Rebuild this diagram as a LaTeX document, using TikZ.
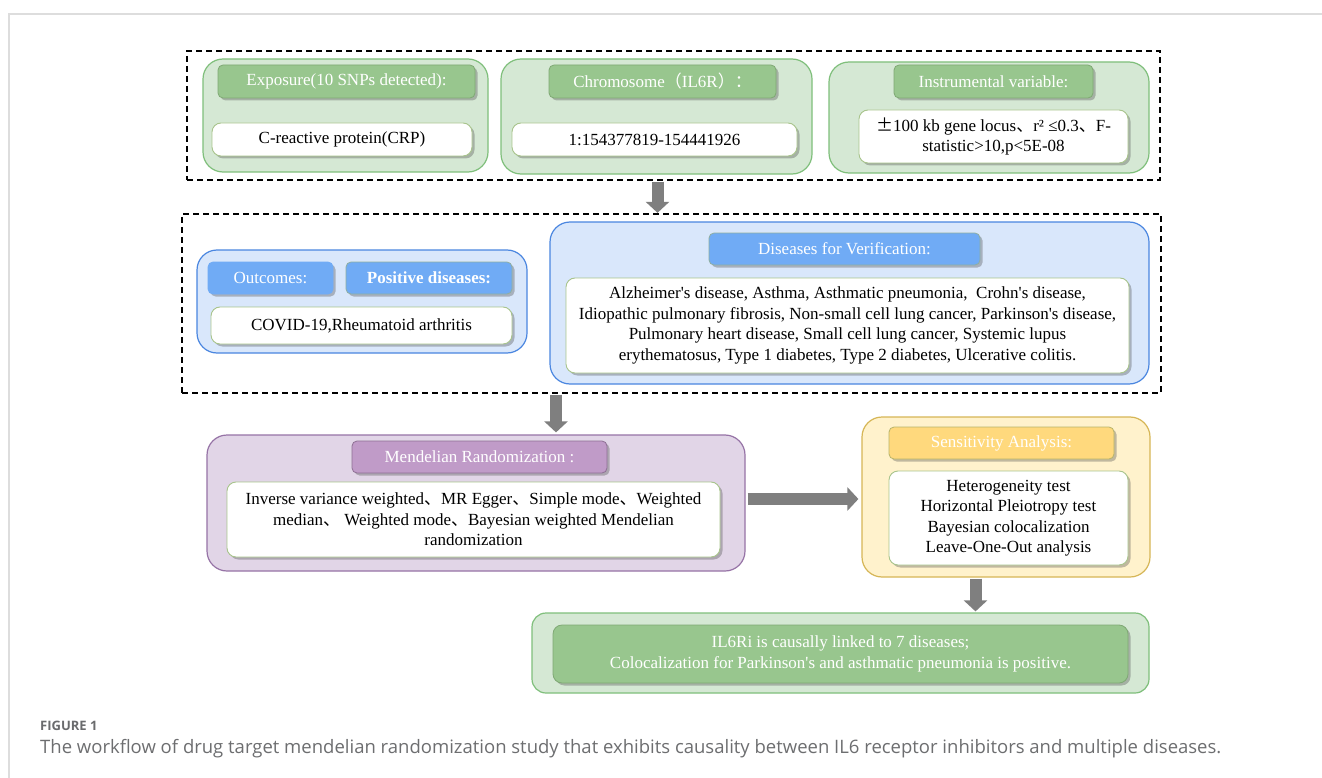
\documentclass[tikz,border=0pt]{standalone}
\usepackage{fontspec}
\setmainfont{Liberation Serif}
\newfontfamily\cjk{Noto Sans CJK SC}
\newfontfamily\capfont{Open Sans}
\usetikzlibrary{arrows.meta,shadows,calc}
\definecolor{gOutFill}{HTML}{D5E8D4}
\definecolor{gOutDraw}{HTML}{7FBF7B}
\definecolor{gTitle}{HTML}{98C68E}
\definecolor{gTitleDraw}{HTML}{7FA874}
\definecolor{bOutFill}{HTML}{D9E7FB}
\definecolor{bOutDraw}{HTML}{4A86E0}
\definecolor{bTitle}{HTML}{70ABF5}
\definecolor{bTitleDraw}{HTML}{8FAFA0}
\definecolor{pOutFill}{HTML}{E1D5E7}
\definecolor{pOutDraw}{HTML}{9673A6}
\definecolor{pTitle}{HTML}{C09BC8}
\definecolor{pTitleDraw}{HTML}{8E7094}
\definecolor{yOutFill}{HTML}{FFF2CC}
\definecolor{yOutDraw}{HTML}{D6B656}
\definecolor{yTitle}{HTML}{FFD97D}
\definecolor{yTitleDraw}{HTML}{B8B46A}
\definecolor{wBorder}{HTML}{A8C48C}
\definecolor{arrowgray}{HTML}{7F7F7F}
\definecolor{framegray}{HTML}{DDDDDD}
\definecolor{capgray}{HTML}{6D6E70}
\definecolor{caplabel}{HTML}{6A6B6D}
\tikzset{
  outerbox/.style={draw, rounded corners=20pt, line width=1.2pt, inner sep=0pt},
  titlebox/.style={rounded corners=5pt, line width=0.8pt, text=white, inner sep=0pt,
    drop shadow={shadow xshift=2.5pt, shadow yshift=-2.5pt, opacity=0.35, fill=black!70}},
  wbox/.style={fill=white, draw=wBorder, line width=0.9pt, rounded corners=9pt, align=center, inner sep=0pt,
    drop shadow={shadow xshift=2.5pt, shadow yshift=-2.5pt, opacity=0.35, fill=black!70}},
  dashbox/.style={draw=black, line width=1.3pt, dash pattern=on 6pt off 4pt, inner sep=0pt},
  bigarrow/.style={draw=arrowgray, line width=12pt, -{Triangle[length=11pt,width=23pt]}, color=arrowgray},
}
\newcommand{\apo}{\textquotesingle}
\begin{document}
\begin{tikzpicture}[x=1pt,y=-1pt, font=\fontsize{17}{20.5}\selectfont]
\useasboundingbox[fill=white] (0,0) rectangle (1322,778);
\draw[framegray, line width=1.5pt] (9,778) -- (9,14) -- (1322,14);

% top dashed group
\node[dashbox, minimum width=973pt, minimum height=129pt] (dash1) at (673.5,115.5) {};
\node[outerbox, fill=gOutFill, draw=gOutDraw, minimum width=285pt, minimum height=113pt] (g1) at (345.5,115.5) {};
\node[titlebox, fill=gTitle, draw=gTitleDraw, minimum width=257pt, minimum height=33pt] (g1t) at (346.5,81.5) {Exposure(10 SNPs detected):};
\node[wbox, minimum width=260pt, minimum height=33pt] (g1w) at (342,139.5) {C-reactive protein(CRP)};

\node[outerbox, fill=gOutFill, draw=gOutDraw, minimum width=311pt, minimum height=115pt] (g2) at (656.5,116.5) {};
\node[titlebox, fill=gTitle, draw=gTitleDraw, minimum width=227pt, minimum height=33pt] (g2t) at (662.5,81.5) {Chromosome{\cjk （}IL6R{\cjk ）：}};
\node[wbox, minimum width=285pt, minimum height=33pt] (g2w) at (654.5,139.5) {1:154377819-154441926};

\node[outerbox, fill=gOutFill, draw=gOutDraw, minimum width=320pt, minimum height=111pt] (g3) at (989,117.5) {};
\node[titlebox, fill=gTitle, draw=gTitleDraw, minimum width=199pt, minimum height=33pt] (g3t) at (993.5,81.5) {Instrumental variable:};
\node[wbox, minimum width=269pt, minimum height=53pt] (g3w) at (993.5,136.5) {{\cjk ±}100 kb gene locus{\cjk 、}r² ≤0.3{\cjk 、}F-\\statistic>10,p<5E-08};

% middle dashed group
\node[dashbox, minimum width=979pt, minimum height=179pt] (dash2) at (671.5,303.5) {};
\node[outerbox, fill=bOutFill, draw=bOutDraw, minimum width=330pt, minimum height=103pt] (b1) at (362,301.5) {};
\node[titlebox, fill=bTitle, draw=bTitle, minimum width=125pt, minimum height=32pt] (b1t1) at (270.5,278) {Outcomes:};
\node[titlebox, fill=bTitle, draw=bTitleDraw, minimum width=166pt, minimum height=32pt, font=\fontsize{17}{20.5}\selectfont\bfseries] (b1t2) at (429,278) {Positive diseases:};
\node[wbox, minimum width=301pt, minimum height=37pt] (b1w) at (361.5,325.5) {COVID-19,Rheumatoid arthritis};

\node[outerbox, fill=bOutFill, draw=bOutDraw, minimum width=599pt, minimum height=162pt] (b2) at (849.5,303) {};
\node[titlebox, fill=bTitle, draw=bTitleDraw, minimum width=271pt, minimum height=32pt] (b2t) at (844.5,249) {Diseases for Verification:};
\node[wbox, minimum width=563pt, minimum height=95pt] (b2w) at (847.5,325.5) {Alzheimer\apo s disease, Asthma, Asthmatic pneumonia,~ Crohn\apo s disease,\\Idiopathic pulmonary fibrosis, Non-small cell lung cancer, Parkinson\apo s disease,\\Pulmonary heart disease, Small cell lung cancer, Systemic lupus\\erythematosus, Type 1 diabetes, Type 2 diabetes, Ulcerative colitis.};

% Mendelian randomization
\node[outerbox, fill=pOutFill, draw=pOutDraw, minimum width=538pt, minimum height=136pt] (pout) at (476,503) {};
\node[titlebox, fill=pTitle, draw=pTitleDraw, minimum width=255pt, minimum height=32pt] (pt) at (479.5,457) {Mendelian Randomization :};
\node[wbox, minimum width=493pt, minimum height=75pt] (pw) at (473.5,519.5) {Inverse variance weighted{\cjk 、}MR Egger{\cjk 、}Simple mode{\cjk 、}Weighted\\median{\cjk 、} Weighted mode{\cjk 、}Bayesian weighted Mendelian\\randomization};

% Sensitivity analysis
\node[outerbox, fill=yOutFill, draw=yOutDraw, minimum width=288pt, minimum height=160pt] (yout) at (1006,497) {};
\node[titlebox, fill=yTitle, draw=yTitleDraw, minimum width=225pt, minimum height=32pt] (yt) at (1001.5,443) {Sensitivity Analysis:};
\node[wbox, minimum width=239pt, minimum height=94pt] (yw) at (1008.5,518) {Heterogeneity test\\Horizontal Pleiotropy test\\Bayesian colocalization\\Leave-One-Out analysis};

% conclusion
\node[outerbox, fill=gOutFill, draw=gOutDraw, minimum width=617pt, minimum height=80pt, rounded corners=14pt] (gbout) at (840.5,653) {};
\node[titlebox, fill=gTitle, draw=gTitleDraw, minimum width=575pt, minimum height=58pt, rounded corners=9pt, align=center] (gbin) at (840.5,654) {IL6Ri is causally linked to 7 diseases;\\Colocalization for Parkinson\apo s and asthmatic pneumonia is positive.};

% arrows
\coordinate (ax1) at (657.5,0);
\coordinate (ax2) at (556,0);
\coordinate (ax3) at (975.5,0);
\coordinate (ay) at (0,499);
\draw[bigarrow] ($(dash1.south -| ax1)+(0,1)$) -- ($(dash2.north -| ax1)+(0,-0.5)$);
\draw[bigarrow] ($(dash2.south -| ax2)+(0,1)$) -- ($(pout.north -| ax2)+(0,-2)$);
\draw[bigarrow] ($(pout.east |- ay)+(2,0)$) -- ($(yout.west |- ay)+(-3,0)$);
\draw[bigarrow] ($(yout.south -| ax3)+(0,1)$) -- ($(gbout.north -| ax3)+(0,-1)$);

% caption
\node[anchor=base west, inner sep=0pt, text=caplabel, font=\capfont\bfseries\fontsize{13}{16}\selectfont] (figlabel) at (40,730) {FIGURE 1};
\node[anchor=base west, inner sep=0pt, text=capgray, font=\capfont\fontsize{18.5}{21}\selectfont] (figcap) at (40,753) {The workflow of drug target mendelian randomization study that exhibits causality between IL6 receptor inhibitors and multiple diseases.};
\end{tikzpicture}
\end{document}
